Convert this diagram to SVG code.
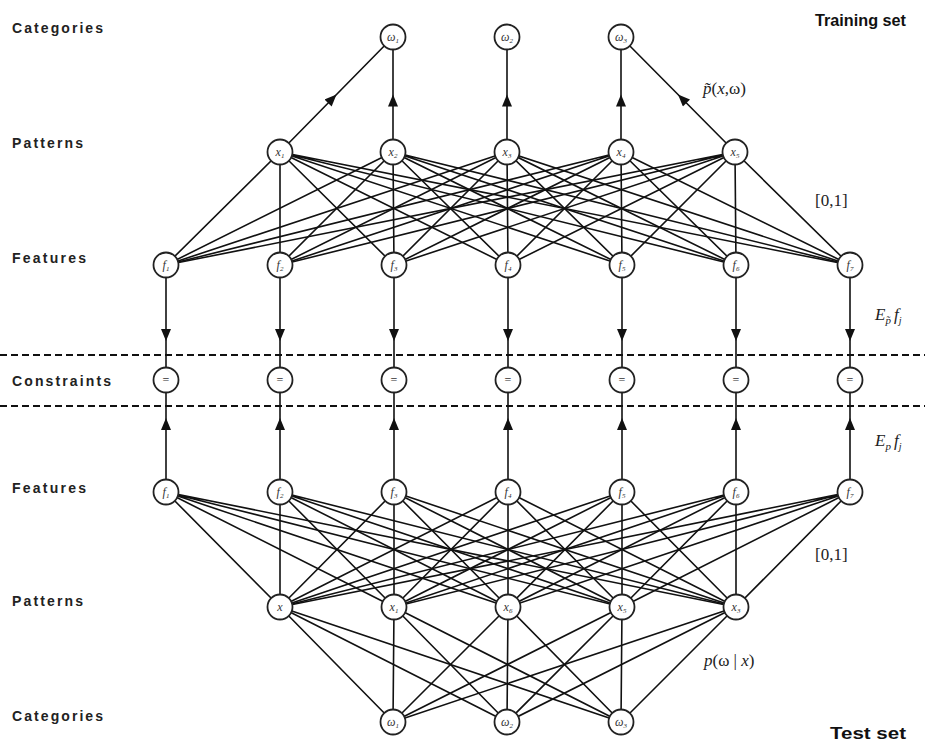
<svg xmlns="http://www.w3.org/2000/svg" width="925" height="744" viewBox="0 0 925 744">
<style>
.lbl{font-family:"Liberation Sans",Arial,sans-serif;font-weight:bold;font-size:14px;fill:#222}
.ttl{font-family:"Liberation Sans",Arial,sans-serif;font-weight:bold;font-size:17px;fill:#111}
.math{font-family:"Liberation Serif","Times New Roman",serif;font-size:17px;fill:#222}
.it{font-style:italic}
.ed{fill:none;stroke:#111;stroke-width:1.6}
.dash{stroke:#111;stroke-width:2;stroke-dasharray:7 4}
.nd circle{fill:#fff;stroke:#222;stroke-width:1.8}
.nd text{font-family:"Liberation Serif","Times New Roman",serif;font-size:12px;font-style:italic;fill:#333;text-anchor:middle}
.nd .eq{font-style:normal;font-size:12px}
</style>
<defs>
<marker id="ah" viewBox="0 0 12 10" refX="12" refY="5" markerWidth="13" markerHeight="10" markerUnits="userSpaceOnUse" orient="auto"><path d="M0 0L12 5L0 10z" fill="#111"/></marker>
</defs>
<rect width="925" height="744" fill="#fff"/>

<g id="labels">
<text class="lbl" x="12" y="33" textLength="91" lengthAdjust="spacing">Categories</text>
<text class="lbl" x="12" y="148" textLength="71" lengthAdjust="spacing">Patterns</text>
<text class="lbl" x="12" y="263" textLength="74" lengthAdjust="spacing">Features</text>
<text class="lbl" x="12" y="386" textLength="99" lengthAdjust="spacing">Constraints</text>
<text class="lbl" x="12" y="493" textLength="74" lengthAdjust="spacing">Features</text>
<text class="lbl" x="12" y="606" textLength="71" lengthAdjust="spacing">Patterns</text>
<text class="lbl" x="12" y="721" textLength="91" lengthAdjust="spacing">Categories</text>
<text class="ttl" x="815" y="26" textLength="91" lengthAdjust="spacingAndGlyphs">Training set</text>
<text class="ttl" x="830" y="739" textLength="76" lengthAdjust="spacingAndGlyphs">Test set</text>
<text class="math" x="703" y="94" font-size="19"><tspan class="it">p̃</tspan>(<tspan class="it">x</tspan>,ω)</text>
<text class="math" x="815" y="206" font-size="16">[0,1]</text>
<text class="math" x="815" y="560" font-size="16">[0,1]</text>
<text class="math" x="875" y="320"><tspan class="it">E</tspan><tspan class="it" font-size="11" dy="4">p̃</tspan><tspan class="it" dy="-4" dx="3">f</tspan><tspan class="it" font-size="10" dy="4">j</tspan></text>
<text class="math" x="875" y="446"><tspan class="it">E</tspan><tspan class="it" font-size="11" dy="4">p</tspan><tspan class="it" dy="-4" dx="3">f</tspan><tspan class="it" font-size="10" dy="4">j</tspan></text>
<text class="math" x="704" y="666" font-size="19"><tspan class="it">p</tspan>(ω | <tspan class="it">x</tspan>)</text>
</g>

<g id="dividers">
<line class="dash" x1="0" y1="355" x2="925" y2="355"/>
<line class="dash" x1="0" y1="406" x2="925" y2="406"/>
</g>

<g id="connectors">
<path class="ed" d="M280 152L166 265M280 152L280 265M280 152L394 265M280 152L508 265M280 152L622 265M280 152L736 265M280 152L850 265"/>
<path class="ed" d="M393 152L166 265M393 152L280 265M393 152L394 265M393 152L508 265M393 152L622 265M393 152L736 265M393 152L850 265"/>
<path class="ed" d="M507 152L166 265M507 152L280 265M507 152L394 265M507 152L508 265M507 152L622 265M507 152L736 265M507 152L850 265"/>
<path class="ed" d="M621 152L166 265M621 152L280 265M621 152L394 265M621 152L508 265M621 152L622 265M621 152L736 265M621 152L850 265"/>
<path class="ed" d="M735 152L166 265M735 152L280 265M735 152L394 265M735 152L508 265M735 152L622 265M735 152L736 265M735 152L850 265"/>

<path class="ed" marker-mid="url(#ah)" d="M280 152L336.5 94.5L393 37"/>
<path class="ed" marker-mid="url(#ah)" d="M393 152L393 94.5L393 37"/>
<path class="ed" marker-mid="url(#ah)" d="M507 152L507 94.5L507 37"/>
<path class="ed" marker-mid="url(#ah)" d="M621 152L621 94.5L621 37"/>
<path class="ed" marker-mid="url(#ah)" d="M735 152L678 94.5L621 37"/>

<path class="ed" marker-mid="url(#ah)" d="M166 265L166 341L166 380"/>
<path class="ed" marker-mid="url(#ah)" d="M280 265L280 341L280 380"/>
<path class="ed" marker-mid="url(#ah)" d="M394 265L394 341L394 380"/>
<path class="ed" marker-mid="url(#ah)" d="M508 265L508 341L508 380"/>
<path class="ed" marker-mid="url(#ah)" d="M622 265L622 341L622 380"/>
<path class="ed" marker-mid="url(#ah)" d="M736 265L736 341L736 380"/>
<path class="ed" marker-mid="url(#ah)" d="M850 265L850 341L850 380"/>

<path class="ed" marker-mid="url(#ah)" d="M166 492L166 418L166 380"/>
<path class="ed" marker-mid="url(#ah)" d="M280 492L280 418L280 380"/>
<path class="ed" marker-mid="url(#ah)" d="M394 492L394 418L394 380"/>
<path class="ed" marker-mid="url(#ah)" d="M508 492L508 418L508 380"/>
<path class="ed" marker-mid="url(#ah)" d="M622 492L622 418L622 380"/>
<path class="ed" marker-mid="url(#ah)" d="M736 492L736 418L736 380"/>
<path class="ed" marker-mid="url(#ah)" d="M850 492L850 418L850 380"/>

<path class="ed" d="M166 492L280 607M166 492L394 607M166 492L508 607M166 492L622 607M166 492L736 607"/>
<path class="ed" d="M280 492L280 607M280 492L394 607M280 492L508 607M280 492L622 607M280 492L736 607"/>
<path class="ed" d="M394 492L280 607M394 492L394 607M394 492L508 607M394 492L622 607M394 492L736 607"/>
<path class="ed" d="M508 492L280 607M508 492L394 607M508 492L508 607M508 492L622 607M508 492L736 607"/>
<path class="ed" d="M622 492L280 607M622 492L394 607M622 492L508 607M622 492L622 607M622 492L736 607"/>
<path class="ed" d="M736 492L280 607M736 492L394 607M736 492L508 607M736 492L622 607M736 492L736 607"/>
<path class="ed" d="M850 492L280 607M850 492L394 607M850 492L508 607M850 492L622 607M850 492L736 607"/>

<path class="ed" d="M280 607L393 722M280 607L507 722M280 607L621 722"/>
<path class="ed" d="M394 607L393 722M394 607L507 722M394 607L621 722"/>
<path class="ed" d="M508 607L393 722M508 607L507 722M508 607L621 722"/>
<path class="ed" d="M622 607L393 722M622 607L507 722M622 607L621 722"/>
<path class="ed" d="M736 607L393 722M736 607L507 722M736 607L621 722"/>
</g>

<g id="train-w1" class="nd"><circle cx="393" cy="37" r="12.5"/><text x="393" y="41">ω<tspan font-size="7" dy="2">1</tspan></text></g>
<g id="train-w2" class="nd"><circle cx="507" cy="37" r="12.5"/><text x="507" y="41">ω<tspan font-size="7" dy="2">2</tspan></text></g>
<g id="train-w3" class="nd"><circle cx="621" cy="37" r="12.5"/><text x="621" y="41">ω<tspan font-size="7" dy="2">3</tspan></text></g>

<g id="train-x1" class="nd"><circle cx="280" cy="152" r="12.5"/><text x="280" y="156">x<tspan font-size="7" dy="2">1</tspan></text></g>
<g id="train-x2" class="nd"><circle cx="393" cy="152" r="12.5"/><text x="393" y="156">x<tspan font-size="7" dy="2">2</tspan></text></g>
<g id="train-x3" class="nd"><circle cx="507" cy="152" r="12.5"/><text x="507" y="156">x<tspan font-size="7" dy="2">3</tspan></text></g>
<g id="train-x4" class="nd"><circle cx="621" cy="152" r="12.5"/><text x="621" y="156">x<tspan font-size="7" dy="2">4</tspan></text></g>
<g id="train-x5" class="nd"><circle cx="735" cy="152" r="12.5"/><text x="735" y="156">x<tspan font-size="7" dy="2">5</tspan></text></g>

<g id="train-f1" class="nd"><circle cx="166" cy="265" r="12.5"/><text x="166" y="269">f<tspan font-size="7" dy="2">1</tspan></text></g>
<g id="train-f2" class="nd"><circle cx="280" cy="265" r="12.5"/><text x="280" y="269">f<tspan font-size="7" dy="2">2</tspan></text></g>
<g id="train-f3" class="nd"><circle cx="394" cy="265" r="12.5"/><text x="394" y="269">f<tspan font-size="7" dy="2">3</tspan></text></g>
<g id="train-f4" class="nd"><circle cx="508" cy="265" r="12.5"/><text x="508" y="269">f<tspan font-size="7" dy="2">4</tspan></text></g>
<g id="train-f5" class="nd"><circle cx="622" cy="265" r="12.5"/><text x="622" y="269">f<tspan font-size="7" dy="2">5</tspan></text></g>
<g id="train-f6" class="nd"><circle cx="736" cy="265" r="12.5"/><text x="736" y="269">f<tspan font-size="7" dy="2">6</tspan></text></g>
<g id="train-f7" class="nd"><circle cx="850" cy="265" r="12.5"/><text x="850" y="269">f<tspan font-size="7" dy="2">7</tspan></text></g>

<g id="c1" class="nd"><circle cx="166" cy="380" r="12.5"/><text class="eq" x="166" y="384">=</text></g>
<g id="c2" class="nd"><circle cx="280" cy="380" r="12.5"/><text class="eq" x="280" y="384">=</text></g>
<g id="c3" class="nd"><circle cx="394" cy="380" r="12.5"/><text class="eq" x="394" y="384">=</text></g>
<g id="c4" class="nd"><circle cx="508" cy="380" r="12.5"/><text class="eq" x="508" y="384">=</text></g>
<g id="c5" class="nd"><circle cx="622" cy="380" r="12.5"/><text class="eq" x="622" y="384">=</text></g>
<g id="c6" class="nd"><circle cx="736" cy="380" r="12.5"/><text class="eq" x="736" y="384">=</text></g>
<g id="c7" class="nd"><circle cx="850" cy="380" r="12.5"/><text class="eq" x="850" y="384">=</text></g>

<g id="test-f1" class="nd"><circle cx="166" cy="492" r="12.5"/><text x="166" y="496">f<tspan font-size="7" dy="2">1</tspan></text></g>
<g id="test-f2" class="nd"><circle cx="280" cy="492" r="12.5"/><text x="280" y="496">f<tspan font-size="7" dy="2">2</tspan></text></g>
<g id="test-f3" class="nd"><circle cx="394" cy="492" r="12.5"/><text x="394" y="496">f<tspan font-size="7" dy="2">3</tspan></text></g>
<g id="test-f4" class="nd"><circle cx="508" cy="492" r="12.5"/><text x="508" y="496">f<tspan font-size="7" dy="2">4</tspan></text></g>
<g id="test-f5" class="nd"><circle cx="622" cy="492" r="12.5"/><text x="622" y="496">f<tspan font-size="7" dy="2">5</tspan></text></g>
<g id="test-f6" class="nd"><circle cx="736" cy="492" r="12.5"/><text x="736" y="496">f<tspan font-size="7" dy="2">6</tspan></text></g>
<g id="test-f7" class="nd"><circle cx="850" cy="492" r="12.5"/><text x="850" y="496">f<tspan font-size="7" dy="2">7</tspan></text></g>

<g id="test-x1" class="nd"><circle cx="280" cy="607" r="12.5"/><text x="280" y="611">x</text></g>
<g id="test-x2" class="nd"><circle cx="394" cy="607" r="12.5"/><text x="394" y="611">x<tspan font-size="7" dy="2">1</tspan></text></g>
<g id="test-x3" class="nd"><circle cx="508" cy="607" r="12.5"/><text x="508" y="611">x<tspan font-size="7" dy="2">6</tspan></text></g>
<g id="test-x4" class="nd"><circle cx="622" cy="607" r="12.5"/><text x="622" y="611">x<tspan font-size="7" dy="2">5</tspan></text></g>
<g id="test-x5" class="nd"><circle cx="736" cy="607" r="12.5"/><text x="736" y="611">x<tspan font-size="7" dy="2">3</tspan></text></g>

<g id="test-w1" class="nd"><circle cx="393" cy="722" r="12.5"/><text x="393" y="726">ω<tspan font-size="7" dy="2">1</tspan></text></g>
<g id="test-w2" class="nd"><circle cx="507" cy="722" r="12.5"/><text x="507" y="726">ω<tspan font-size="7" dy="2">2</tspan></text></g>
<g id="test-w3" class="nd"><circle cx="621" cy="722" r="12.5"/><text x="621" y="726">ω<tspan font-size="7" dy="2">3</tspan></text></g>
</svg>
